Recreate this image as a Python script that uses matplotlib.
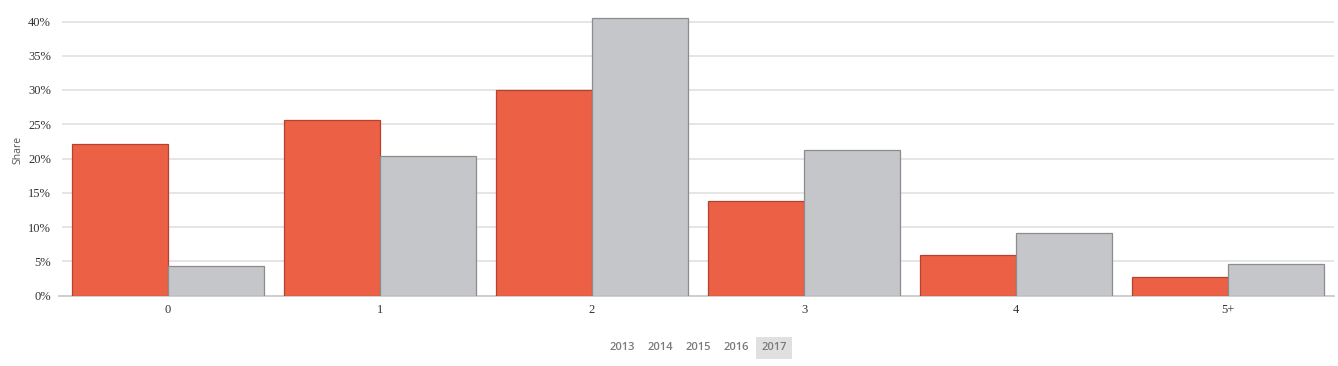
import matplotlib
matplotlib.use("Agg")
import matplotlib.pyplot as plt
import numpy as np

categories = ["0", "1", "2", "3", "4", "5+"]
series_red = [22.1, 25.6, 30.0, 13.8, 5.9, 2.7]
series_gray = [4.3, 20.4, 40.5, 21.3, 9.1, 4.6]
y_ticks = [0, 5, 10, 15, 20, 25, 30, 35, 40]
tab_labels = ["2013", "2014", "2015", "2016", "2017"]
active_tab = "2017"

serif = ["Liberation Serif", "DejaVu Serif"]

W, H = 1338, 366
fig = plt.figure(figsize=(W / 100, H / 100), dpi=100)
px_per = 6.85
ymax = 42
bottom_px = 295.5
top_px = bottom_px - ymax * px_per
ax = fig.add_axes([62 / W, (H - bottom_px) / H, (1334 - 62) / W, (bottom_px - top_px) / H])

x = np.arange(len(categories))
bw = 96 / 212
ax.bar(x - bw / 2, series_red, width=bw, color="#EC6146", edgecolor="#B5412F", linewidth=0.9, zorder=3)
ax.bar(x + bw / 2, series_gray, width=bw, color="#C5C6C9", edgecolor="#8C8C8C", linewidth=0.9, zorder=3)

ax.set_xlim(-0.5, len(categories) - 0.5)
ax.set_ylim(0, ymax)
ax.set_yticks(y_ticks)
ax.set_yticklabels([f"{t}%" for t in y_ticks], fontfamily=serif, fontsize=9, color="#333333")
ax.set_xticks(x)
ax.set_xticklabels(categories, fontfamily=serif, fontsize=9, color="#333333")
ax.tick_params(axis="both", length=0, pad=6)
ax.tick_params(axis="y", pad=8)
for s in ax.spines.values():
    s.set_visible(False)
ax.grid(axis="y", color="#E3E3E3", linewidth=1.3, zorder=0)
ax.axhline(0, color="#CCCCCC", linewidth=1.3, zorder=2, xmin=-3 / 1272, clip_on=False)

fig.text(18 / W, 1 - 150 / H, "Share", rotation=90, ha="center", va="center",
         family="Open Sans", fontsize=7.5, color="#555555")

xs = [622, 660, 698, 736, 774]
for lab, xc in zip(tab_labels, xs):
    kw = {}
    if lab == active_tab:
        kw["bbox"] = dict(boxstyle="square,pad=0.5", facecolor="#E0E0E0", edgecolor="none")
    fig.text(xc / W, 1 - 348 / H, lab, ha="center", va="center", family="Open Sans",
             fontsize=8, fontweight="semibold", color="#7A7A7A", **kw)

fig.savefig("out.png", dpi=100)
